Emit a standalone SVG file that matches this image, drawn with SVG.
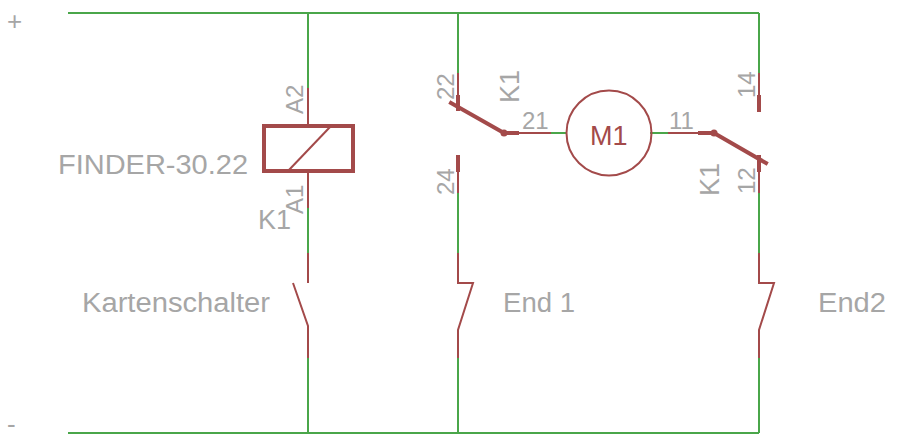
<svg xmlns="http://www.w3.org/2000/svg" width="897" height="442" viewBox="0 0 897 442">
<style>
.w{stroke:#4aa64a;stroke-width:2;fill:none}
.r{stroke:#a34a4a;stroke-width:2;fill:none}
.t{stroke:#a34a4a;stroke-width:4;fill:none}
.k{stroke:#a34a4a;stroke-width:4;fill:none;stroke-linecap:square}
text{font-family:"Liberation Sans",Arial,sans-serif;fill:#a6a6a6}
.l{font-size:27px}
.p{font-size:24px}
</style>
<rect width="897" height="442" fill="#fff"/>
<g id="connectors">
<path class="w" d="M68 13H759M68 433H759M308 13V88M308 208V283M308 358V433M458 13V73M458 193V283M458 358V433M759 13V73M759 193V283M759 358V433M551 133H567M650 133H668"/>
</g>
<g id="K1-coil">
<path class="r" d="M308 88V125M308 171V208"/>
<rect class="k" x="264" y="126" width="89" height="45"/>
<path class="r" d="M288 171L330 127"/>
<text class="p" transform="translate(303 114) rotate(-90)">A2</text>
<text class="p" transform="translate(303 214) rotate(-90)">A1</text>
<text class="l" x="58" y="174" textLength="190" lengthAdjust="spacingAndGlyphs">FINDER-30.22</text>
<text class="l" x="258" y="229">K1</text>
</g>
<g id="K1-left">
<path class="r" d="M458 73V98M458 170V193M519 133H551"/>
<path class="t" d="M458 95V111M458 155V172M504 133H519"/>
<path class="k" d="M451 103L504 133"/>
<circle cx="504" cy="133" r="3.500" fill="#a34a4a"/>
<text class="p" transform="translate(454 100) rotate(-90)">22</text>
<text class="p" transform="translate(454 195) rotate(-90)">24</text>
<text class="p" x="522" y="129">21</text>
<text class="l" transform="translate(519 103) rotate(-90)">K1</text>
</g>
<g id="M1">
<circle class="r" cx="609" cy="133" r="42.500"/>
<text class="l" x="590" y="145" style="fill:#a34a4a">M1</text>
</g>
<g id="K1-right">
<path class="r" d="M668 133H698M759 73V95M759 170V193"/>
<path class="t" d="M698 133H714M759 95V112M759 155V172"/>
<path class="k" d="M714 133L766 163"/>
<circle cx="714" cy="133" r="3.500" fill="#a34a4a"/>
<text class="p" x="669" y="129">11</text>
<text class="p" transform="translate(755 98) rotate(-90)">14</text>
<text class="p" transform="translate(755 194) rotate(-90)">12</text>
<text class="l" transform="translate(719 196) rotate(-90)">K1</text>
</g>
<g id="Kartenschalter">
<path class="r" d="M308 253V283M293 283L308 326V358"/>
<text class="l" x="82" y="312" textLength="188" lengthAdjust="spacingAndGlyphs">Kartenschalter</text>
</g>
<g id="End1">
<path class="r" d="M458 253V283H473L458 330V358"/>
<text class="l" x="503" y="312" textLength="72" lengthAdjust="spacingAndGlyphs">End 1</text>
</g>
<g id="End2">
<path class="r" d="M759 253V283H774L759 330V358"/>
<text class="l" x="818" y="312" textLength="68" lengthAdjust="spacingAndGlyphs">End2</text>
</g>
<g id="rails">
<text x="7" y="30" style="font-size:26px">+</text>
<text x="7" y="433" style="font-size:26px">-</text>
</g>
</svg>
